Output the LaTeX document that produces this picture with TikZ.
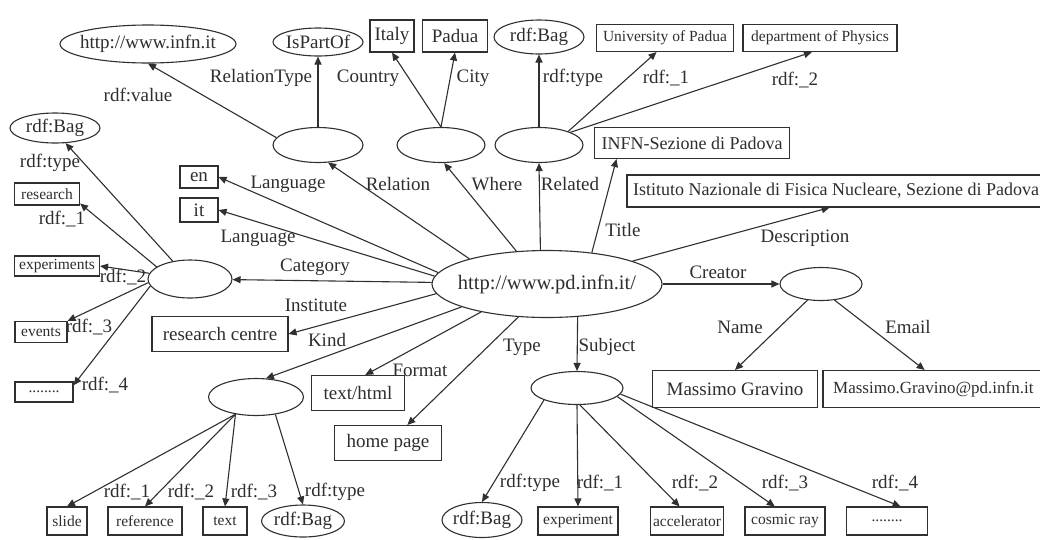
\documentclass[tikz,border=0pt]{standalone}
\usepackage{fontspec}
\setmainfont{Liberation Serif}
\usetikzlibrary{shapes.geometric,arrows.meta}
\newcommand\myfs[1]{\fontsize{#1}{#1}\selectfont}
\definecolor{ink}{HTML}{2E2E2E}
\definecolor{ln}{HTML}{303030}
\begin{document}
\begin{tikzpicture}[x=1pt,y=-1pt,
  every node/.style={text=ink, font=\myfs{19}},
  ell/.style={draw=ln, ellipse, inner sep=0pt, line width=1.1pt},
  box/.style={draw=ln, rectangle, inner sep=0pt, line width=1.1pt},
  sm/.style={font=\myfs{15.5}},
  md/.style={font=\myfs{18}},
  edge/.style={draw=ln, line width=1.1pt, -{Triangle[length=8pt,width=7pt]}},
  lab/.style={inner sep=0pt}]
\useasboundingbox[fill=white] (0,0) rectangle (1040,539);

% ---- nodes: top row
\node[ell, minimum width=176pt, minimum height=38pt] (infn) at (148,44) {\makebox[0pt]{http://www.infn.it}};
\node[ell, minimum width=90pt, minimum height=28pt] (ispart) at (318,42) {\makebox[0pt]{IsPartOf}};
\node[box, minimum width=44pt, minimum height=32pt] (italy) at (392,36) {Italy};
\node[box, minimum width=65pt, minimum height=32pt] (padua) at (455,36) {Padua};
\node[ell, minimum width=90pt, minimum height=34pt] (bagtop) at (539,37) {\makebox[0pt]{rdf:Bag}};
\node[box, sm, minimum width=137pt, minimum height=27pt] (univ) at (665,38) {University of Padua};
\node[box, sm, minimum width=154pt, minimum height=27pt] (dept) at (820,38) {department of Physics};

% ---- second row
\node[ell, minimum width=90pt, minimum height=35pt] (rel) at (318,145) {};
\node[ell, minimum width=88pt, minimum height=35pt] (where) at (441,145) {};
\node[ell, minimum width=88pt, minimum height=35pt] (related) at (539,145) {};
\node[box, md, minimum width=195pt, minimum height=31pt] (infnsez) at (692,143) {INFN-Sezione di Padova};
\node[box, md, minimum width=418pt, minimum height=32pt] (ist) at (836,191) {Istituto Nazionale di Fisica Nucleare, Sezione di Padova};

% ---- left column
\node[ell, minimum width=90pt, minimum height=30pt] (leftbag) at (55,128) {\makebox[0pt]{rdf:Bag}};
\node[box, sm, minimum width=65pt, minimum height=22pt] (research) at (47,194) {research};
\node[box, sm, minimum width=85pt, minimum height=20pt] (exper) at (57,266) {experiments};
\node[ell, minimum width=84pt, minimum height=38pt] (cat) at (190,279) {};
\node[box, sm, minimum width=52pt, minimum height=21pt] (events) at (41,332) {events};
\node[box, sm, minimum width=58pt, minimum height=20pt] (dotsl) at (44,392) {........};
\node[box, minimum width=38pt, minimum height=22pt] (en) at (199,177) {en};
\node[box, minimum width=38pt, minimum height=24pt] (it) at (199,210) {it};
\node[box, minimum width=136pt, minimum height=35pt] (rc) at (220,334) {research centre};

% ---- centre and right
\node[ell, minimum width=230pt, minimum height=67pt, font=\myfs{20.5}] (M) at (547,284) {\makebox[0pt]{http://www.pd.infn.it/}};
\node[ell, minimum width=82pt, minimum height=33pt] (creator) at (821,284) {};
\node[box, minimum width=165pt, minimum height=37pt] (massimo) at (735,389) {Massimo Gravino};
\node[box, minimum width=232pt, minimum height=37pt] (email) at (939,389) {};
\node[anchor=west, inner sep=0pt, font=\myfs{17}] (emailtext) at (833,389) {Massimo.Gravino@pd.infn.it};

% ---- lower middle
\node[ell, minimum width=95pt, minimum height=37pt] (kind) at (256,397) {};
\node[box, minimum width=93pt, minimum height=35pt] (html) at (358,393) {text/html};
\node[box, minimum width=107pt, minimum height=35pt] (home) at (388,443) {home page};
\node[ell, minimum width=92pt, minimum height=33pt] (subj) at (577,388) {};

% ---- bottom row
\node[box, sm, minimum width=40pt, minimum height=28pt] (slide) at (67,521) {slide};
\node[box, sm, minimum width=74pt, minimum height=28pt] (reference) at (145,521) {reference};
\node[box, sm, minimum width=44pt, minimum height=28pt] (text) at (225,521) {text};
\node[ell, minimum width=83pt, minimum height=32pt] (kbag) at (303,521) {\makebox[0pt]{rdf:Bag}};
\node[ell, minimum width=80pt, minimum height=35pt] (sbag) at (482,520) {\makebox[0pt]{rdf:Bag}};
\node[box, sm, minimum width=80pt, minimum height=28pt] (experiment) at (578,521) {experiment};
\node[box, sm, minimum width=73pt, minimum height=28pt] (accel) at (687,521) {accelerator};
\node[box, sm, minimum width=80pt, minimum height=28pt] (cosmic) at (785,521) {cosmic ray};
\node[box, sm, minimum width=81pt, minimum height=28pt] (dotsr) at (887,521) {........};

% ---- edges from the main resource
\draw[edge] (M.162) -- (rel.-60);
\draw[edge] (M.133) -- (where.-80);
\draw[edge] (M.101) -- (related.south);
\draw[edge] (M.35) -- (infnsez.192);
\draw[edge] (M.15) -- (ist.-111);
\draw[edge] (M) -- (creator);
\draw[edge] (M.174) -- (en.east);
\draw[edge] (M.176) -- (it.east);
\draw[edge] (M) -- (cat);
\draw[edge] (M.185) -- (rc.east);
\draw[edge] (M.195) -- (kind.62);
\draw[edge] (M.203) -- (html.68);
\draw[edge] (M.229) -- (home.43);
\draw[edge] (M.-47) -- (subj.north);

% ---- relation / where / related
\draw[edge] (rel.170) -- (infn.south);
\draw[edge] (rel) -- (ispart);
\draw[edge] (where.north) -- (italy.south);
\draw[edge] (where.north) -- (padua.south);
\draw[edge] (related) -- (bagtop);
\draw[edge] (related.25) -- (univ.-121);
\draw[edge] (related.22) -- (dept.-120);

% ---- category
\draw[edge] (cat.134) -- (leftbag.-55);
\draw[edge] (cat.160) -- (research.-16);
\draw[edge] (cat.172) -- (exper.east);
\draw[edge] (cat.185) -- (events.north east);
\draw[edge] (cat.190) -- (dotsl.13);

% ---- kind
\draw[edge] (kind.-140) -- (slide.north);
\draw[edge] (kind.-140) -- (reference.north);
\draw[edge] (kind.-140) -- (text.north);
\draw[edge] (kind.-42) -- (kbag.north);

% ---- subject
\draw[edge] (subj.-160) -- (sbag.north);
\draw[edge] (subj.south) -- (experiment.north);
\draw[edge] (subj.-80) -- (accel.117);
\draw[edge] (subj.-12) -- (cosmic.125);
\draw[edge] (subj.-8) -- (dotsr.47);

% ---- creator
\draw[edge] (creator.-130) -- (massimo.north);
\draw[edge] (creator.-50) -- (email.127);

% ---- edge labels
\node[lab] (lRelation) at (398,184) {Relation};
\node[lab] (lWhere) at (497,184) {Where};
\node[lab] (lRelated) at (570,184) {Related};
\node[lab] (lTitle) at (623,230) {Title};
\node[lab] (lDesc) at (805,238) {Description};
\node[lab] (lCreator) at (718,272) {Creator};
\node[lab] (lLang1) at (288,184) {Language};
\node[lab] (lLang2) at (258,238) {Language};
\node[lab] (lCat) at (315,267) {Category};
\node[lab] (lInst) at (316,305) {Institute};
\node[lab] (lKind) at (327,340) {Kind};
\node[lab] (lFormat) at (420,370) {Format};
\node[lab] (lType) at (522,347) {Type};
\node[lab] (lSubject) at (607,347) {Subject};
\node[lab] (lValue) at (138,95) {rdf:value};
\node[lab] (lRelType) at (261,78) {RelationType};
\node[lab] (lCountry) at (368,78) {Country};
\node[lab] (lCity) at (473,78) {City};
\node[lab] (lRType) at (573,78) {rdf:type};
\node[lab] (lR1) at (666,78) {rdf:\_1};
\node[lab] (lR2) at (795,80) {rdf:\_2};
\node[lab] (lCType) at (50,163) {rdf:type};
\node[lab] (lC1) at (62,219) {rdf:\_1};
\node[lab] (lC2) at (123,277) {rdf:\_2};
\node[lab] (lC3) at (89,327) {rdf:\_3};
\node[lab] (lC4) at (105,385) {rdf:\_4};
\node[lab] (lK1) at (127,492) {rdf:\_1};
\node[lab] (lK2) at (191,492) {rdf:\_2};
\node[lab] (lK3) at (254,492) {rdf:\_3};
\node[lab] (lKT) at (335,492) {rdf:type};
\node[lab] (lST) at (530,483) {rdf:type};
\node[lab] (lS1) at (600,483) {rdf:\_1};
\node[lab] (lS2) at (695,483) {rdf:\_2};
\node[lab] (lS3) at (785,483) {rdf:\_3};
\node[lab] (lS4) at (895,483) {rdf:\_4};
\node[lab] (lName) at (740,327) {Name};
\node[lab] (lEmail) at (908,327) {Email};
\end{tikzpicture}
\end{document}
